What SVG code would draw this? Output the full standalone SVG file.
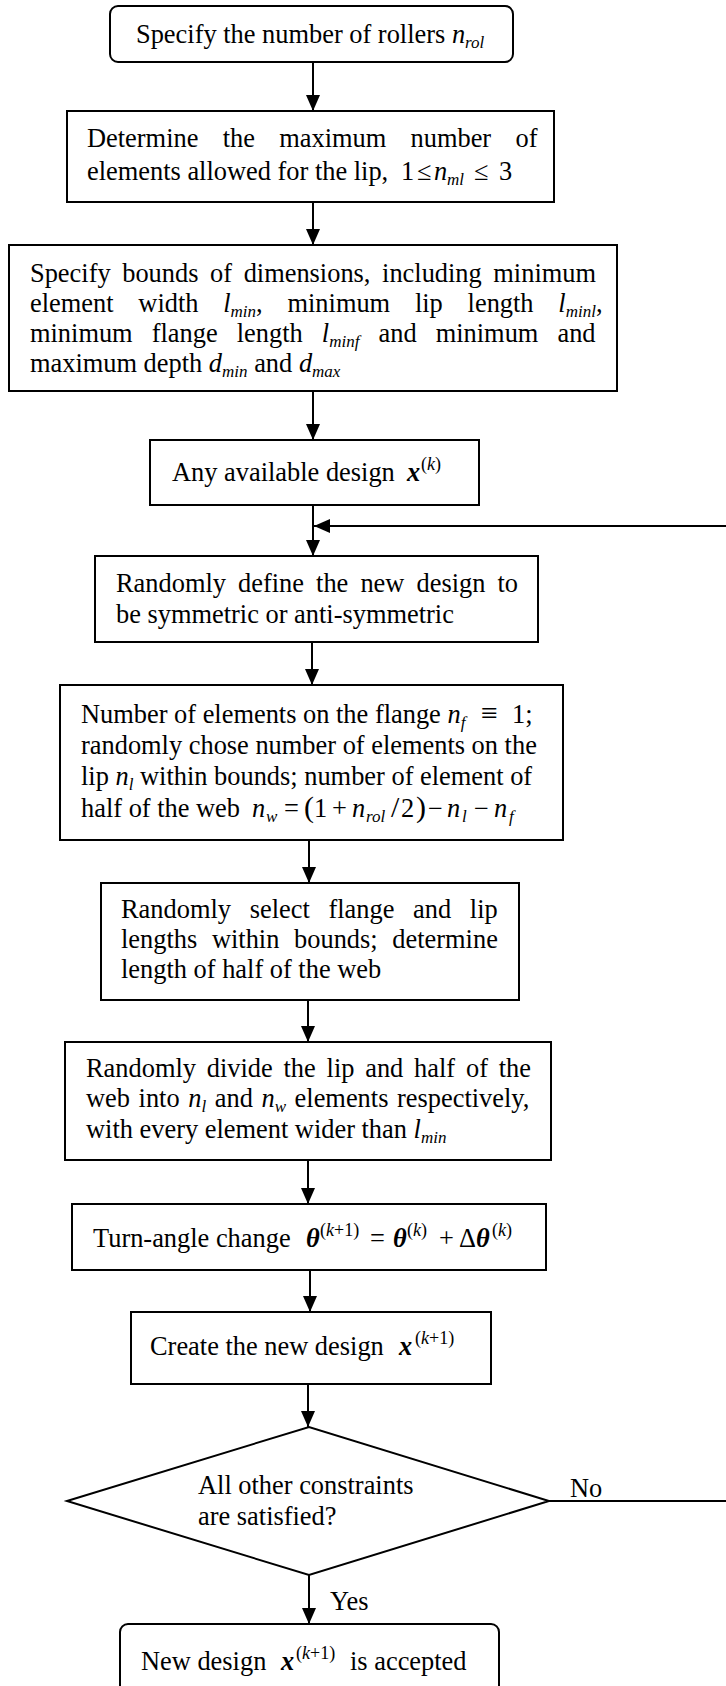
<svg xmlns="http://www.w3.org/2000/svg" width="726" height="1686" viewBox="0 0 726 1686">
<style>
text { font-family: "Liberation Serif", "Times New Roman", serif; font-size: 26.4px; fill: #000; }
.i { font-style: italic; }
.bi { font-style: italic; font-weight: bold; }
.sub { font-size: 17px; font-style: italic; }
.sup { font-size: 18px; }
.big { font-size: 30px; }
.box { fill: #fff; stroke: #000; stroke-width: 2; }
.conn { fill: none; stroke: #000; stroke-width: 2; }
</style>
<defs>
<marker id="ah" markerUnits="userSpaceOnUse" markerWidth="16" markerHeight="14" refX="16" refY="7" orient="auto">
<path d="M0,0 L16,7 L0,14 z" fill="#000"/>
</marker>
</defs>
<rect width="726" height="1686" fill="#fff"/>

<g id="connectors">
<line class="conn" x1="313" y1="62" x2="313" y2="111" marker-end="url(#ah)"/>
<line class="conn" x1="313" y1="202" x2="313" y2="245" marker-end="url(#ah)"/>
<line class="conn" x1="313" y1="391" x2="313" y2="440" marker-end="url(#ah)"/>
<line class="conn" x1="313" y1="505" x2="313" y2="556" marker-end="url(#ah)"/>
<line class="conn" x1="312" y1="642" x2="312" y2="685" marker-end="url(#ah)"/>
<line class="conn" x1="309" y1="840" x2="309" y2="883" marker-end="url(#ah)"/>
<line class="conn" x1="308" y1="1000" x2="308" y2="1042" marker-end="url(#ah)"/>
<line class="conn" x1="308" y1="1160" x2="308" y2="1204" marker-end="url(#ah)"/>
<line class="conn" x1="310" y1="1270" x2="310" y2="1312" marker-end="url(#ah)"/>
<line class="conn" x1="308" y1="1384" x2="308" y2="1427" marker-end="url(#ah)"/>
<line class="conn" x1="309" y1="1575" x2="309" y2="1624" marker-end="url(#ah)"/>
<path class="conn" d="M549,1501 H730 V526 H314" marker-end="url(#ah)"/>
<text x="570" y="1497">No</text>
<text x="330" y="1610">Yes</text>
</g>

<g id="n1">
<rect class="box" x="110" y="6" width="403" height="56" rx="8"/>
<text x="136" y="43">Specify the number of rollers <tspan class="i">n</tspan><tspan class="sub" dy="5">rol</tspan></text>
</g>

<g id="n2">
<rect class="box" x="67" y="111" width="487" height="91"/>
<text x="87" y="147" style="word-spacing:17.7px">Determine the maximum number of</text>
<text x="87" y="180">elements allowed for the lip,</text>
<text y="180"><tspan x="401">1</tspan><tspan x="417">≤</tspan><tspan x="434" class="i">n</tspan><tspan x="447" class="sub" dy="5">ml</tspan><tspan x="474" dy="-5">≤</tspan><tspan x="499">3</tspan></text>
</g>

<g id="n3">
<rect class="box" x="9" y="245" width="608" height="146"/>
<text x="30" y="282" style="word-spacing:5px">Specify bounds of dimensions, including minimum</text>
<text x="30" y="312" style="word-spacing:18.2px">element width <tspan class="i">l</tspan><tspan class="sub" dy="5">min</tspan><tspan dy="-5">, minimum lip length </tspan><tspan class="i">l</tspan><tspan class="sub" dy="5">minl</tspan><tspan dy="-5">,</tspan></text>
<text x="30" y="342" style="word-spacing:12.5px">minimum flange length <tspan class="i">l</tspan><tspan class="sub" dy="5">minf</tspan><tspan dy="-5"> and minimum and</tspan></text>
<text x="30" y="372">maximum depth <tspan class="i">d</tspan><tspan class="sub" dy="5">min</tspan><tspan dy="-5"> and </tspan><tspan class="i">d</tspan><tspan class="sub" dy="5">max</tspan></text>
</g>

<g id="n4">
<rect class="box" x="150" y="440" width="329" height="65"/>
<text x="172" y="481">Any available design</text>
<text y="481"><tspan x="407" class="bi">x</tspan><tspan x="421" class="sup" dy="-11">(<tspan class="i">k</tspan>)</tspan></text>
</g>

<g id="n5">
<rect class="box" x="95" y="556" width="443" height="86"/>
<text x="116" y="592" style="word-spacing:5.5px">Randomly define the new design to</text>
<text x="116" y="623">be symmetric or anti-symmetric</text>
</g>

<g id="n6">
<rect class="box" x="60" y="685" width="503" height="155"/>
<text x="81" y="723">Number of elements on the flange <tspan class="i">n</tspan><tspan class="sub" dy="5">f</tspan></text>
<text y="723"><tspan x="481" class="big">≡</tspan><tspan x="512">1;</tspan></text>
<text x="81" y="754">randomly chose number of elements on the</text>
<text x="81" y="785">lip <tspan class="i">n</tspan><tspan class="sub" dy="5">l</tspan><tspan dy="-5"> within bounds; number of element of</tspan></text>
<text x="81" y="817">half of the web</text>
<text y="817"><tspan x="252" class="i">n</tspan><tspan x="266" class="sub" dy="5">w</tspan><tspan x="284" dy="-5">=</tspan><tspan x="304" class="big">(</tspan><tspan x="314">1</tspan><tspan x="332">+</tspan><tspan x="352" class="i">n</tspan><tspan x="366" class="sub" dy="5">rol</tspan><tspan x="391" class="big" dy="-5">/</tspan><tspan x="401">2</tspan><tspan x="416" class="big">)</tspan><tspan x="428">−</tspan><tspan x="447" class="i">n</tspan><tspan x="462" class="sub" dy="5">l</tspan><tspan x="474" dy="-5">−</tspan><tspan x="494" class="i">n</tspan><tspan x="509" class="sub" dy="5">f</tspan></text>
</g>

<g id="n7">
<rect class="box" x="101" y="883" width="418" height="117"/>
<text x="121" y="918" style="word-spacing:12.1px">Randomly select flange and lip</text>
<text x="121" y="948" style="word-spacing:8.1px">lengths within bounds; determine</text>
<text x="121" y="978">length of half of the web</text>
</g>

<g id="n8">
<rect class="box" x="65" y="1042" width="486" height="118"/>
<text x="86" y="1077" style="word-spacing:4.2px">Randomly divide the lip and half of the</text>
<text x="86" y="1107" style="word-spacing:2px">web into <tspan class="i">n</tspan><tspan class="sub" dy="5">l</tspan><tspan dy="-5"> and </tspan><tspan class="i">n</tspan><tspan class="sub" dy="5">w</tspan><tspan dy="-5"> elements respectively,</tspan></text>
<text x="86" y="1138">with every element wider than <tspan class="i">l</tspan><tspan class="sub" dy="5">min</tspan></text>
</g>

<g id="n9">
<rect class="box" x="72" y="1204" width="474" height="66"/>
<text x="93" y="1247">Turn-angle change</text>
<text y="1247"><tspan x="306" class="bi">θ</tspan><tspan x="320" class="sup" dy="-11">(<tspan class="i">k</tspan>+1)</tspan><tspan x="370" dy="11">=</tspan><tspan x="393" class="bi">θ</tspan><tspan x="407" class="sup" dy="-11">(<tspan class="i">k</tspan>)</tspan><tspan x="439" dy="11">+</tspan><tspan x="459">Δ</tspan><tspan x="476" class="bi">θ</tspan><tspan x="492" class="sup" dy="-11">(<tspan class="i">k</tspan>)</tspan></text>
</g>

<g id="n10">
<rect class="box" x="131" y="1312" width="360" height="72"/>
<text x="150" y="1355">Create the new design</text>
<text y="1355"><tspan x="399" class="bi">x</tspan><tspan x="415" class="sup" dy="-11">(<tspan class="i">k</tspan>+1)</tspan></text>
</g>

<g id="n11">
<polygon class="box" points="67,1501 309,1427 549,1501 309,1575"/>
<text x="198" y="1494">All other constraints</text>
<text x="198" y="1525">are satisfied?</text>
</g>

<g id="n12">
<rect class="box" x="120" y="1624" width="379" height="80" rx="8"/>
<text x="141" y="1670">New design</text>
<text y="1670"><tspan x="281" class="bi">x</tspan><tspan x="296" class="sup" dy="-11">(<tspan class="i">k</tspan>+1)</tspan><tspan x="350" dy="11">is accepted</tspan></text>
</g>
</svg>
